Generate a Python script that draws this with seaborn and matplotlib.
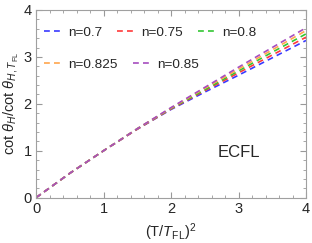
import numpy as np
import pandas as pd
import seaborn as sns
import matplotlib
matplotlib.use("Agg")
import matplotlib.pyplot as plt
from matplotlib.ticker import MultipleLocator
from matplotlib.lines import Line2D

x_vals = [0, 0.5, 1.0, 1.5, 2.0, 2.5, 3.0, 3.5, 4.0]
n_labels = ["n=0.7", "n=0.75", "n=0.8", "n=0.825", "n=0.85"]
y_n070 = [0, 0.52, 1.0, 1.46, 1.88, 2.25, 2.61, 2.98, 3.35]
y_n075 = [0, 0.52, 1.0, 1.46, 1.89, 2.28, 2.66, 3.04, 3.42]
y_n080 = [0, 0.52, 1.0, 1.47, 1.90, 2.30, 2.70, 3.10, 3.49]
y_n0825 = [0, 0.52, 1.0, 1.47, 1.91, 2.33, 2.74, 3.15, 3.56]
y_n085 = [0, 0.52, 1.0, 1.47, 1.92, 2.35, 2.78, 3.20, 3.62]
series = [y_n070, y_n075, y_n080, y_n0825, y_n085]
colors = ["#3a3aff", "#ff3a3a", "#33c633", "#ffa64d", "#a64dbf"]

rows = []
for lab, ys in zip(n_labels, series):
    for xv, yv in zip(x_vals, ys):
        rows.append({"x": xv, "y": yv, "n": lab})
df = pd.DataFrame(rows)

sns.set_style("ticks")
plt.rcParams["font.family"] = ["Liberation Sans", "DejaVu Sans"]
plt.rcParams["mathtext.fontset"] = "custom"
plt.rcParams["mathtext.rm"] = "Liberation Sans"
plt.rcParams["mathtext.it"] = "Liberation Sans:italic"

fig = plt.figure(figsize=(3.12, 2.43), dpi=100)
ax = fig.add_axes([0.1154, 0.1864, 0.8654, 0.7726])

sns.lineplot(data=df, x="x", y="y", hue="n", hue_order=n_labels,
             palette=colors, ax=ax, lw=1.2, legend=False)
for line in ax.get_lines():
    line.set_dashes([3.5, 2.5])

ax.set_xlim(0, 4)
ax.set_ylim(0, 4)
ax.xaxis.set_major_locator(MultipleLocator(1))
ax.yaxis.set_major_locator(MultipleLocator(1))
ax.xaxis.set_minor_locator(MultipleLocator(0.2))
ax.yaxis.set_minor_locator(MultipleLocator(0.2))
ax.tick_params(which="both", direction="in", top=True, right=True,
               color="#999999", labelsize=10.5, pad=3)
ax.tick_params(which="major", length=4, width=0.8)
ax.tick_params(which="minor", length=2, width=0.6)
for sp in ax.spines.values():
    sp.set_color("#a0a0a0")
    sp.set_linewidth(0.8)

ax.set_xlabel(r"(T/$T_{\mathrm{FL}}$)$^2$", fontsize=10.5, labelpad=4)
ax.set_ylabel(r"cot $\theta_H$/cot $\theta_{H,T_{\mathrm{FL}}}$", fontsize=10.5, labelpad=2)

ax.text(3.0, 0.97, "ECFL", fontsize=12, ha="center", va="center")

handles = [Line2D([], [], color=c, lw=1.2, dashes=[3.5, 2.5]) for c in colors]
leg_kw = dict(frameon=False, fontsize=9.7, handlelength=1.2,
              handletextpad=0.6, columnspacing=1.1, borderaxespad=0.2)
leg1 = ax.legend(handles[:3], n_labels[:3], ncol=3, loc="upper left",
                 bbox_to_anchor=(0.0, 0.955), **leg_kw)
ax.add_artist(leg1)
leg2 = ax.legend(handles[3:], n_labels[3:], ncol=2, loc="upper left",
                 bbox_to_anchor=(0.0, 0.785), **leg_kw)

fig.savefig("out.png", dpi=100)
